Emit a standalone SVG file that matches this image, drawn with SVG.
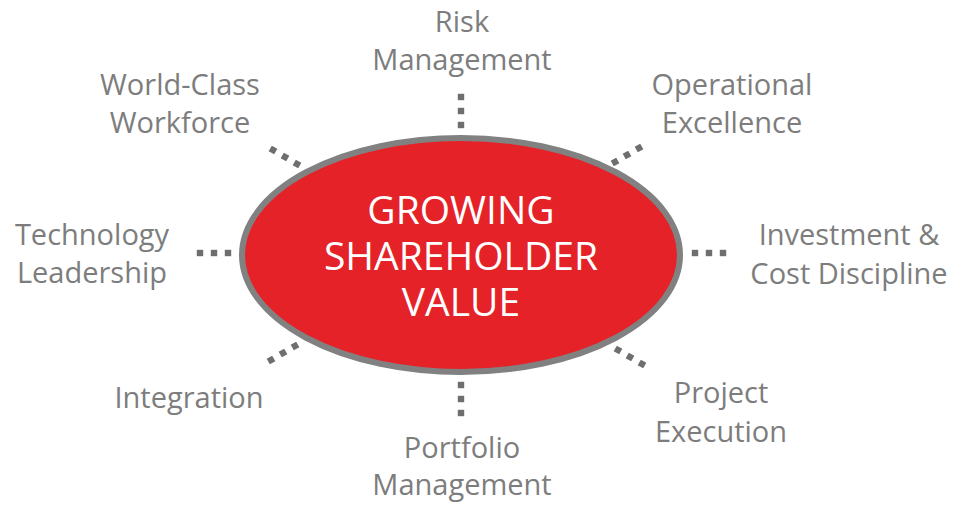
<svg xmlns="http://www.w3.org/2000/svg" width="954" height="507" viewBox="0 0 954 507">
<style>
.lbl{font-family:"Open Sans","Liberation Sans",sans-serif;font-size:29px;fill:#7d7d7d;text-anchor:middle}
.ctr{font-family:"Open Sans","Liberation Sans",sans-serif;font-size:39px;fill:#ffffff;text-anchor:middle}
.dot{fill:#6e6e70}
</style>
<defs>
<rect id="d" class="dot" x="-3.2" y="-3.2" width="6.4" height="6.4"/>
</defs>
<rect width="954" height="507" fill="#ffffff"/>
<g id="connectors">
  <use href="#d" x="461" y="97"/><use href="#d" x="461" y="111"/><use href="#d" x="461" y="125"/>
  <use href="#d" x="461" y="385"/><use href="#d" x="461" y="399"/><use href="#d" x="461" y="413"/>
  <use href="#d" x="200" y="253"/><use href="#d" x="214" y="253"/><use href="#d" x="228" y="253"/>
  <use href="#d" x="695" y="253"/><use href="#d" x="709" y="253"/><use href="#d" x="723" y="253"/>
  <use href="#d" x="273" y="150" transform="rotate(30 273 150)"/><use href="#d" x="285" y="157" transform="rotate(30 285 157)"/><use href="#d" x="297" y="164" transform="rotate(30 297 164)"/>
  <use href="#d" x="615" y="162" transform="rotate(-30 615 162)"/><use href="#d" x="627" y="155" transform="rotate(-30 627 155)"/><use href="#d" x="639" y="148" transform="rotate(-30 639 148)"/>
  <use href="#d" x="271" y="360" transform="rotate(-30 271 360)"/><use href="#d" x="283" y="353" transform="rotate(-30 283 353)"/><use href="#d" x="295" y="346" transform="rotate(-30 295 346)"/>
  <use href="#d" x="618" y="350" transform="rotate(30 618 350)"/><use href="#d" x="630" y="357" transform="rotate(30 630 357)"/><use href="#d" x="642" y="364" transform="rotate(30 642 364)"/>
</g>
<g id="center">
  <ellipse cx="461" cy="255" rx="219" ry="117" fill="#e52228" stroke="#818181" stroke-width="6"/>
  <text class="ctr" x="461" y="224">GROWING<tspan x="461" dy="46">SHAREHOLDER</tspan><tspan x="461" dy="46">VALUE</tspan></text>
</g>
<g id="risk"><text class="lbl" x="462" y="32">Risk</text><text class="lbl" x="462" y="70">Management</text></g>
<g id="operational"><text class="lbl" x="732" y="95">Operational</text><text class="lbl" x="732" y="133">Excellence</text></g>
<g id="investment"><text class="lbl" x="849" y="245">Investment &amp;</text><text class="lbl" x="849" y="284">Cost Discipline</text></g>
<g id="project"><text class="lbl" x="721" y="403">Project</text><text class="lbl" x="721" y="442">Execution</text></g>
<g id="portfolio"><text class="lbl" x="462" y="458">Portfolio</text><text class="lbl" x="462" y="495">Management</text></g>
<g id="integration"><text class="lbl" x="189" y="408">Integration</text></g>
<g id="technology"><text class="lbl" x="92" y="245">Technology</text><text class="lbl" x="92" y="283">Leadership</text></g>
<g id="workforce"><text class="lbl" x="180" y="95">World-Class</text><text class="lbl" x="180" y="133">Workforce</text></g>
</svg>
